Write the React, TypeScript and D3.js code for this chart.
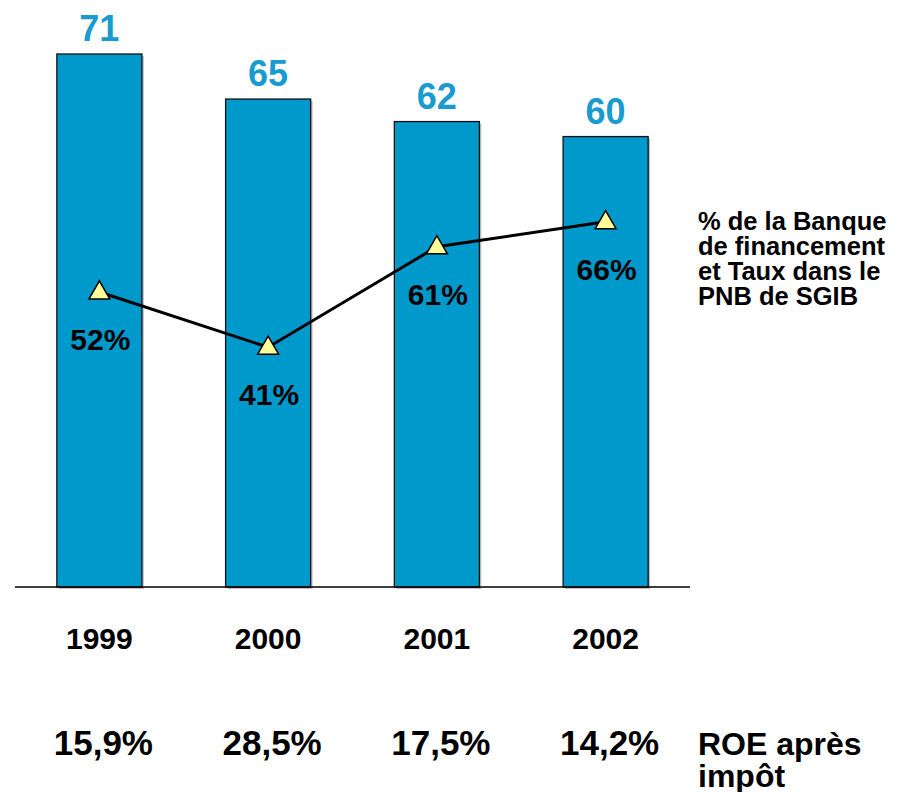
import React from "react";
import * as d3 from "d3";

const years = ["1999", "2000", "2001", "2002"];
const barValues = [71, 65, 62, 60];
const sharePct = [52, 41, 61, 66];
const roeLabels = ["15,9%", "28,5%", "17,5%", "14,2%"];
const legendLines = ["% de la Banque", "de financement", "et Taux dans le", "PNB de SGIB"];
const roeTitle = ["ROE après", "impôt"];

const W = 897;
const H = 792;
const BASE = 587;
const BLUE = "#0099CC";
const FONT = "'Liberation Sans', Arial, Helvetica, sans-serif";

export default function App() {
  const x = d3.scaleBand<string>().domain(years).range([15, 690]).paddingInner(0.496).paddingOuter(0.248);
  const y = d3.scaleLinear().domain([0, 71]).range([BASE, 54]);
  const yl = d3.scaleLinear().domain([0, 100]).range([553, 51]);
  const cx = (yr: string) => (x(yr) as number) + x.bandwidth() / 2;

  const pts: [number, number][] = years.map((yr, i) => [cx(yr), yl(sharePct[i])]);
  const line = d3.line()(pts) as string;
  const tri = d3.symbol().type(d3.symbolTriangle).size(190)() as string;

  return (
    <svg width={W} height={H} style={{ position: "absolute", left: 0, top: 0, background: "#fff" }} fontFamily={FONT} fontWeight="bold">
      {years.map((yr, i) => {
        const x0 = x(yr) as number;
        const top = y(barValues[i]);
        return (
          <g key={yr}>
            <rect x={x0 + 2} y={top + 2} width={x.bandwidth()} height={BASE - top} fill="#9a9a9a" opacity={0.6} />
            <rect x={x0} y={top} width={x.bandwidth()} height={BASE - top} fill={BLUE} stroke="#111" strokeWidth={1.3} />
            <text x={cx(yr)} y={top - 13} textAnchor="middle" fontSize={36} fill="#1A9BD0">{barValues[i]}</text>
          </g>
        );
      })}
      <line x1={15} x2={690} y1={BASE} y2={BASE} stroke="#000" strokeWidth={1.5} />
      <path d={line} fill="none" stroke="#000" strokeWidth={3} />
      {pts.map(([px, py], i) => (
        <g key={i}>
          <path d={tri} transform={`translate(${px},${py + 1})`} fill="#FFFF99" stroke="#000" strokeWidth={1.5} />
          <text x={px + 1} y={py + 58} textAnchor="middle" fontSize={30} fill="#000">{sharePct[i]}%</text>
        </g>
      ))}
      {years.map((yr) => (
        <text key={yr} x={cx(yr)} y={649} textAnchor="middle" fontSize={30} fill="#000">{yr}</text>
      ))}
      {roeLabels.map((r, i) => (
        <text key={r} x={cx(years[i]) + 4} y={755} textAnchor="middle" fontSize={35} fill="#000">{r}</text>
      ))}
      {roeTitle.map((t, i) => (
        <text key={t} x={698} y={755 + i * 32} fontSize={32} fill="#000">{t}</text>
      ))}
      {legendLines.map((t, i) => (
        <text key={t} x={698} y={230 + i * 25} fontSize={25.5} fill="#000">{t}</text>
      ))}
    </svg>
  );
}
